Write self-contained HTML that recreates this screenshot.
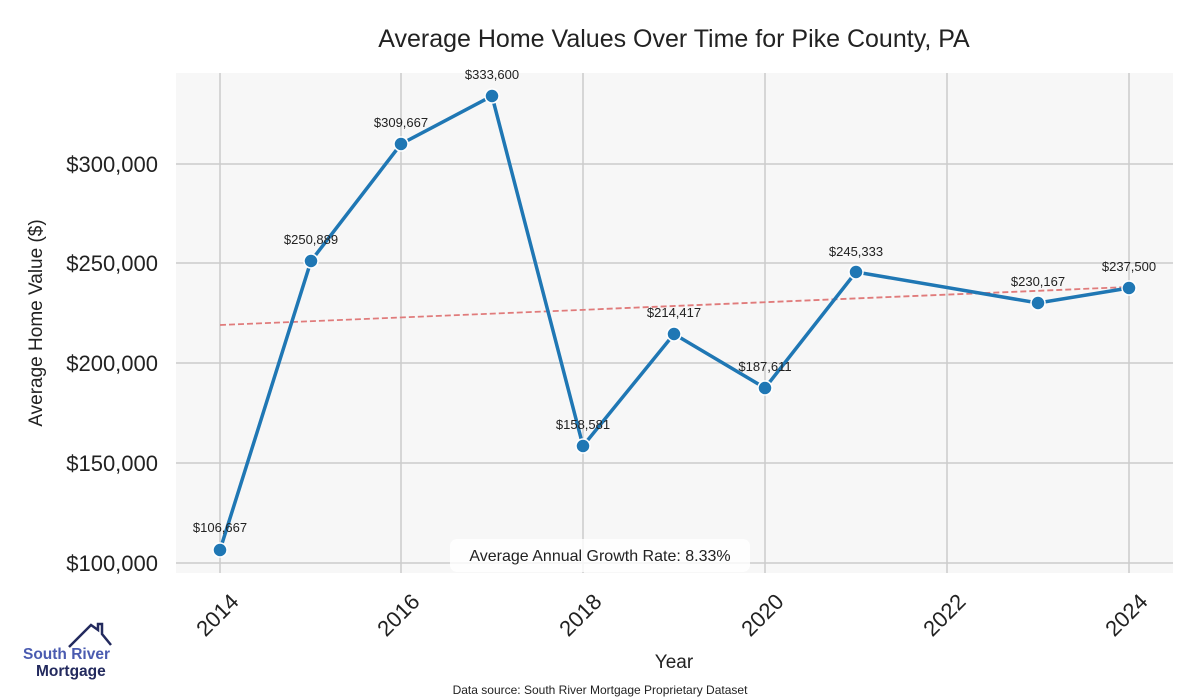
<!DOCTYPE html>
<html><head><meta charset="utf-8"><style>body{margin:0;background:#fff}svg{display:block}</style></head><body>
<svg width="1200" height="700" xmlns="http://www.w3.org/2000/svg" font-family="Liberation Sans, sans-serif">
<rect x="176" y="73" width="997" height="500" fill="#f7f7f7"/>
<g stroke="#cccccc" stroke-width="1.5">
<line x1="220" y1="73" x2="220" y2="573"/><line x1="401" y1="73" x2="401" y2="573"/><line x1="583" y1="73" x2="583" y2="573"/><line x1="765" y1="73" x2="765" y2="573"/><line x1="947" y1="73" x2="947" y2="573"/><line x1="1129" y1="73" x2="1129" y2="573"/>
<line x1="176" y1="164" x2="1173" y2="164"/><line x1="176" y1="263" x2="1173" y2="263"/><line x1="176" y1="363" x2="1173" y2="363"/><line x1="176" y1="463" x2="1173" y2="463"/><line x1="176" y1="563" x2="1173" y2="563"/>
</g>
<text x="674" y="47" text-anchor="middle" font-size="25" fill="#222">Average Home Values Over Time for Pike County, PA</text>
<g font-size="22" fill="#222" text-anchor="end">
<text x="158" y="172">$300,000</text><text x="158" y="271">$250,000</text><text x="158" y="371">$200,000</text><text x="158" y="471">$150,000</text><text x="158" y="571">$100,000</text>
</g>
<text transform="translate(42,323) rotate(-90)" text-anchor="middle" font-size="19" fill="#222">Average Home Value ($)</text>
<g font-size="22" fill="#222" text-anchor="end">
<text transform="translate(240,603) rotate(-45)">2014</text>
<text transform="translate(421,603) rotate(-45)">2016</text>
<text transform="translate(603,603) rotate(-45)">2018</text>
<text transform="translate(785,603) rotate(-45)">2020</text>
<text transform="translate(967,603) rotate(-45)">2022</text>
<text transform="translate(1149,603) rotate(-45)">2024</text>
</g>
<text x="674" y="668" text-anchor="middle" font-size="19" fill="#222">Year</text>
<text x="600" y="694" text-anchor="middle" font-size="12" fill="#222">Data source: South River Mortgage Proprietary Dataset</text>
<line x1="220" y1="325" x2="1129" y2="287" stroke="#e07b7b" stroke-width="1.8" stroke-dasharray="6,3"/>
<polyline fill="none" stroke="#1f77b4" stroke-width="3.5" points="220,550 311,261 401,144 492,96 583,446 674,334 765,388 856,272 1038,303 1129,288"/>
<g fill="#1f77b4" stroke="#fff" stroke-width="1.5">
<circle cx="220" cy="550" r="7"/><circle cx="311" cy="261" r="7"/><circle cx="401" cy="144" r="7"/><circle cx="492" cy="96" r="7"/><circle cx="583" cy="446" r="7"/><circle cx="674" cy="334" r="7"/><circle cx="765" cy="388" r="7"/><circle cx="856" cy="272" r="7"/><circle cx="1038" cy="303" r="7"/><circle cx="1129" cy="288" r="7"/>
</g>
<g font-size="13" fill="#222" text-anchor="middle">
<text x="220" y="532">$106,667</text><text x="311" y="244">$250,889</text><text x="401" y="127">$309,667</text><text x="492" y="79">$333,600</text><text x="583" y="429">$158,581</text><text x="674" y="317">$214,417</text><text x="765" y="371">$187,611</text><text x="856" y="256">$245,333</text><text x="1038" y="286">$230,167</text><text x="1129" y="271">$237,500</text>
</g>
<rect x="450" y="539" width="300" height="33" rx="7" fill="#fff" fill-opacity="0.8"/>
<text x="600" y="561" text-anchor="middle" font-size="16" fill="#222">Average Annual Growth Rate: 8.33%</text>
<polyline points="69,647 91,625 98,630 98,624 102,624 102,634 111,645" fill="none" stroke="#232a5e" stroke-width="2.5"/>
<text x="23" y="659" font-size="15.5" font-weight="bold" fill="#4a5bb0">South River</text>
<text x="36" y="676" font-size="15.5" font-weight="bold" fill="#232a5e">Mortgage</text>
</svg>
</body></html>
